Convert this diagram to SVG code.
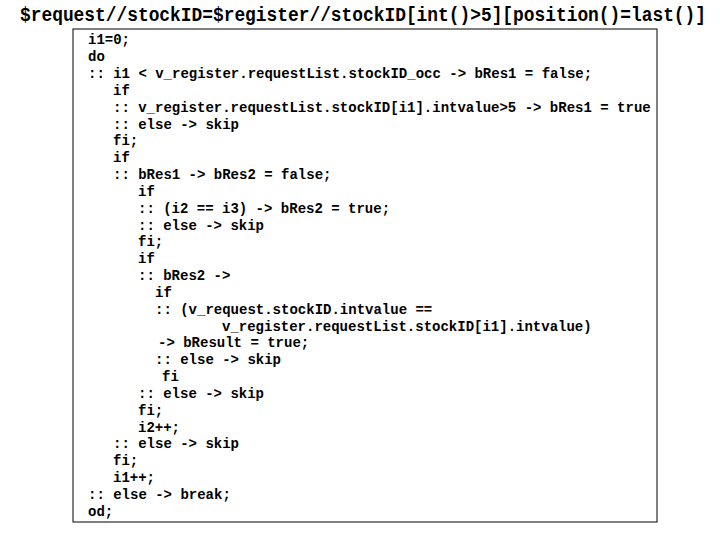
<svg xmlns="http://www.w3.org/2000/svg" width="720" height="540" viewBox="0 0 720 540">
<style>
.t{font-family:"Liberation Mono","DejaVu Sans Mono",monospace;font-weight:bold;fill:#000}
.c{font-size:14px}
</style>
<rect width="720" height="540" fill="#fff"/>
<text class="t" x="20" y="21" font-size="20" textLength="686" lengthAdjust="spacingAndGlyphs">$request//stockID=$register//stockID[int()&gt;5][position()=last()]</text>
<g id="codebox">
<rect x="73" y="29" width="584" height="493" fill="#fff" stroke="#000" stroke-width="1"/>
<g class="t c">
<text x="88" y="44">i1=0;</text>
<text x="88" y="61">do</text>
<text x="88" y="78">:: i1 &lt; v_register.requestList.stockID_occ -&gt; bRes1 = false;</text>
<text x="113" y="95">if</text>
<text x="113" y="112">:: v_register.requestList.stockID[i1].intvalue&gt;5 -&gt; bRes1 = true</text>
<text x="113" y="129">:: else -&gt; skip</text>
<text x="113" y="145">fi;</text>
<text x="113" y="162">if</text>
<text x="113" y="179">:: bRes1 -&gt; bRes2 = false;</text>
<text x="138" y="196">if</text>
<text x="138" y="213">:: (i2 == i3) -&gt; bRes2 = true;</text>
<text x="138" y="230">:: else -&gt; skip</text>
<text x="138" y="246">fi;</text>
<text x="138" y="263">if</text>
<text x="138" y="280">:: bRes2 -&gt;</text>
<text x="155" y="297">if</text>
<text x="155" y="314">:: (v_request.stockID.intvalue ==</text>
<text x="222" y="331">v_register.requestList.stockID[i1].intvalue)</text>
<text x="158" y="347">-&gt; bResult = true;</text>
<text x="155" y="364">:: else -&gt; skip</text>
<text x="162" y="381">fi</text>
<text x="138" y="398">:: else -&gt; skip</text>
<text x="138" y="415">fi;</text>
<text x="138" y="432">i2++;</text>
<text x="113" y="448">:: else -&gt; skip</text>
<text x="113" y="465">fi;</text>
<text x="113" y="482">i1++;</text>
<text x="88" y="499">:: else -&gt; break;</text>
<text x="88" y="516">od;</text>
</g>
</g>
</svg>
